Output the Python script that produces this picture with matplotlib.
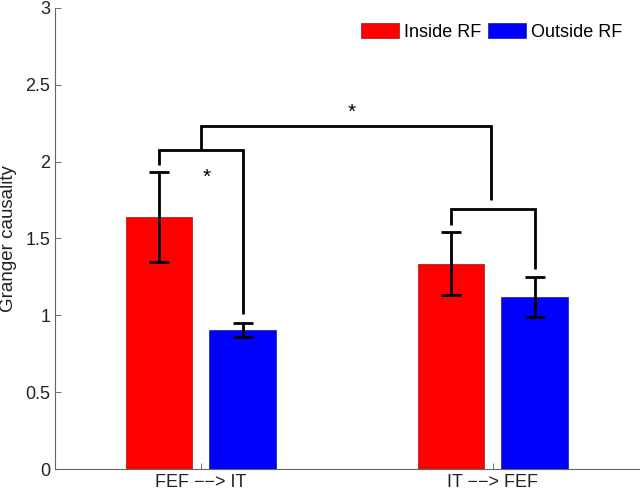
import matplotlib.pyplot as plt
import numpy as np

plt.rcParams['font.family'] = ['Liberation Sans', 'DejaVu Sans']

# Data
groups = ['FEF \u2212\u2212> IT', 'IT \u2212\u2212> FEF']
inside_rf = [1.64, 1.335]
inside_err = [0.29, 0.205]
outside_rf = [0.905, 1.12]
outside_err = [0.045, 0.13]

fig = plt.figure(figsize=(6.4, 4.94), dpi=100)
ax = fig.add_axes([0.086, 0.0506, 0.912, 0.9334])

x = np.arange(1, len(groups) + 1)
off = 0.143
w = 0.228
ax.bar(x - off, inside_rf, w, color='#ff0000', edgecolor='#700000', linewidth=0.4, label='Inside RF')
ax.bar(x + off, outside_rf, w, color='#0000ff', edgecolor='#000070', linewidth=0.4, label='Outside RF')
ax.errorbar(x - off, inside_rf, yerr=inside_err, fmt='none', ecolor='k', elinewidth=2, capsize=7, capthick=2)
ax.errorbar(x + off, outside_rf, yerr=outside_err, fmt='none', ecolor='k', elinewidth=2, capsize=7, capthick=2)

# significance brackets
lk = dict(color='k', lw=2, solid_capstyle='butt', solid_joinstyle='miter')
ax.plot([1 - off, 1 - off, 1 + off, 1 + off], [1.98, 2.075, 2.075, 1.01], **lk)
ax.plot([2 - off, 2 - off, 2 + off, 2 + off], [1.59, 1.69, 1.69, 1.30], **lk)
ax.plot([1, 1, 1.993, 1.993], [2.075, 2.23, 2.23, 1.75], **lk)
ax.text(1.02, 1.9, '*', fontsize=15, ha='center', va='center')
ax.text(1.515, 2.32, '*', fontsize=15, ha='center', va='center')

ax.set_xlim(0.5, 2.5)
ax.set_ylim(0, 3)
ax.set_xticks(x)
ax.set_xticklabels(groups)
ax.set_yticks(np.arange(0, 3.01, 0.5))
ax.set_yticklabels(['0', '0.5', '1', '1.5', '2', '2.5', '3'])
ax.tick_params(direction='in', labelsize=13, length=4, width=0.6, colors='#555555', labelcolor='#222222')
ax.set_ylabel('Granger causality', fontsize=13.5, color='#222222', labelpad=6)
for s in ['top', 'right']:
    ax.spines[s].set_visible(False)
for s in ['left', 'bottom']:
    ax.spines[s].set_linewidth(0.8)
    ax.spines[s].set_color('#666666')

ax.legend(loc='upper right', ncol=2, frameon=False, fontsize=13, handlelength=2.1, handleheight=0.9,
          handletextpad=0.25, columnspacing=0.4, borderaxespad=0.2, bbox_to_anchor=(0.99, 0.99))

fig.savefig('out.png', dpi=100)
